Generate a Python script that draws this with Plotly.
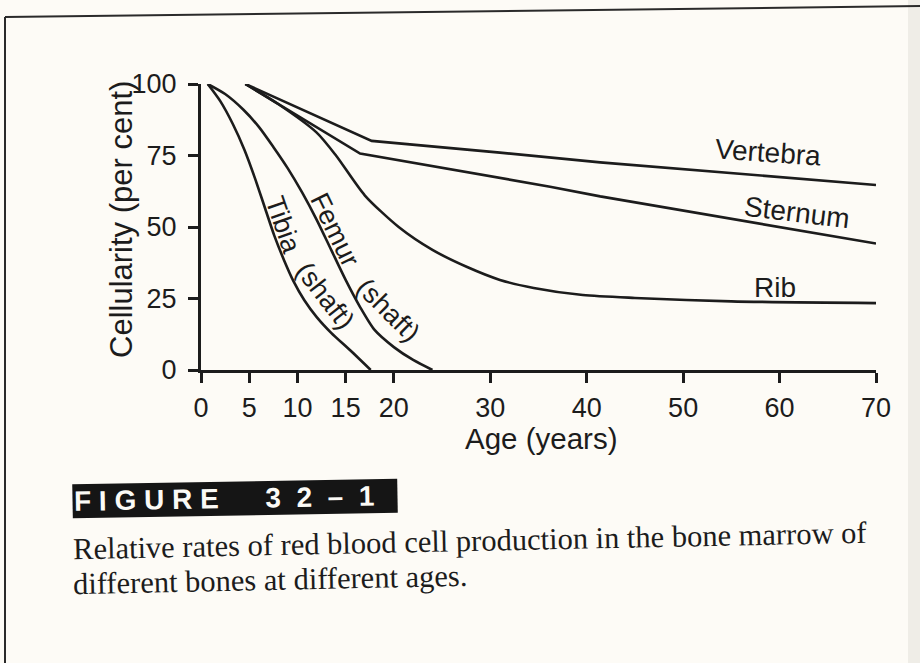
import plotly.graph_objects as go

# Age (years) and cellularity (per cent) for each bone
tibia_age = [0.7, 2, 3.3, 4.5, 5.6, 6.6, 7.6, 8.6, 9.6, 10.7, 12, 13.5, 15.5, 17.6]
tibia_val = [100, 94, 86, 77, 67, 57, 47, 38.5, 31, 24.5, 18.5, 13, 6.8, 0]

femur_age = [0.7, 2.5, 4.4, 6, 7.5, 9, 10.5, 12, 13.5, 15, 16.5, 18, 20, 22, 24]
femur_val = [100, 96.5, 91, 85, 78, 70.5, 62, 52.5, 42, 31.5, 22, 14, 8, 3.5, 0]

rib_age = [4.6, 8, 12, 14, 17, 20.5, 24, 27.6, 31, 34.5, 39.6, 45, 55, 70]
rib_val = [100, 93, 83, 75, 61, 50, 42, 36, 31.5, 28.7, 26.2, 25.2, 24, 23.4]

sternum_age = [4.6, 16.5, 36.2, 41.4, 70]
sternum_val = [100, 75.7, 64.1, 60.7, 44.2]

vertebra_age = [4.6, 17.7, 31, 41.4, 70]
vertebra_val = [100, 80.1, 76, 72.6, 64.7]

x_ticks = [0, 5, 10, 15, 20, 30, 40, 50, 60, 70]
y_ticks = [0, 25, 50, 75, 100]

INK = "#1c1c1c"
SANS = "Liberation Sans, Arial, sans-serif"
SERIF = "Liberation Serif, Times New Roman, serif"

W, H = 920, 663
ML, MR, MT, MB = 201, 44, 84, 293
PW, PH = W - ML - MR, H - MT - MB


def px(x):
    """Page pixel column -> paper x (relative to the plotting area)."""
    return (x - ML) / PW


def py(y):
    """Page pixel row -> paper y (relative to the plotting area)."""
    return (H - MB - y) / PH


fig = go.Figure()


def add_curve(xs, ys, name, shape="spline"):
    fig.add_trace(go.Scatter(
        x=xs, y=ys, mode="lines", name=name,
        line=dict(color=INK, width=2.6, shape=shape, smoothing=0.7),
        hoverinfo="x+y+name",
    ))


add_curve(tibia_age, tibia_val, "Tibia (shaft)")
add_curve(femur_age, femur_val, "Femur (shaft)")
add_curve(rib_age, rib_val, "Rib")
add_curve(sternum_age, sternum_val, "Sternum", shape="linear")
add_curve(vertebra_age, vertebra_val, "Vertebra", shape="linear")

# Curve labels
curve_labels = [
    ("Vertebra", 58.8, 76.2, 4, 28),
    ("Sternum", 61.8, 55.0, 7, 28),
    ("Rib", 59.5, 29.0, 0, 28),
    ("Tibia", 8.6, 50.5, 71, 27),
    ("(shaft)", 12.9, 26.0, 52, 27),
    ("Femur", 13.9, 49.0, 64, 27),
    ("(shaft)", 19.4, 21.0, 45, 27),
]
for text, ax_x, ax_y, ang, size in curve_labels:
    fig.add_annotation(x=ax_x, y=ax_y, xref="x", yref="y", text=text,
                       showarrow=False, textangle=ang,
                       xanchor="center", yanchor="middle",
                       font=dict(family=SANS, size=size, color=INK))

# Axis titles
fig.add_annotation(x=px(121), y=py(220), xref="paper", yref="paper",
                   text="Cellularity (per cent)", showarrow=False, textangle=-90,
                   xanchor="center", yanchor="middle",
                   font=dict(family=SANS, size=31, color=INK))
fig.add_annotation(x=px(541), y=py(438), xref="paper", yref="paper",
                   text="Age (years)", showarrow=False,
                   xanchor="center", yanchor="middle",
                   font=dict(family=SANS, size=29.5, color=INK))

# Figure number box and caption
NB = "&nbsp;"
fig_number = "F I G U R E" + NB * 6 + (NB * 2).join(["3", "2", "–", "1"])
fig.add_annotation(x=px(72), y=py(498), xref="paper", yref="paper",
                   text=fig_number,
                   showarrow=False, xanchor="left", yanchor="middle",
                   font=dict(family=SANS, size=28, color="#fbfaf6", weight="bold"),
                   bgcolor="#151515", width=322, height=31, align="left",
                   borderpad=1, textangle=-1)
fig.add_annotation(x=px(71), y=py(541), xref="paper", yref="paper",
                   text="Relative rates of red blood cell production in the bone marrow of",
                   showarrow=False, xanchor="left", yanchor="middle", textangle=-1.2,
                   font=dict(family=SERIF, size=30.5, color=INK))
fig.add_annotation(x=px(71), y=py(580), xref="paper", yref="paper",
                   text="different bones at different ages.",
                   showarrow=False, xanchor="left", yanchor="middle", textangle=-1.2,
                   font=dict(family=SERIF, size=30.5, color=INK))

# Page frame lines and the darker right-hand edge
fig.add_shape(type="line", xref="paper", yref="paper",
              x0=px(5), y0=py(17), x1=px(920), y1=py(6),
              line=dict(color="#2a2a2a", width=2))
fig.add_shape(type="line", xref="paper", yref="paper",
              x0=px(5), y0=py(17), x1=px(5), y1=py(663),
              line=dict(color="#2a2a2a", width=2))
fig.add_shape(type="rect", xref="paper", yref="paper",
              x0=px(908), y0=py(663), x1=px(920), y1=py(0), line=dict(width=0),
              fillcolor="rgba(190,185,178,0.22)", layer="below")

fig.update_xaxes(
    range=[0, 70], tickvals=x_ticks, ticktext=[str(v) for v in x_ticks],
    showline=True, linecolor=INK, linewidth=3, showgrid=False, zeroline=False,
    ticks="outside", ticklen=10, tickwidth=2.5, tickcolor=INK,
    tickfont=dict(family=SANS, size=27, color=INK), ticklabelstandoff=2,
)
fig.update_yaxes(
    range=[0, 100], tickvals=y_ticks,
    showline=True, linecolor=INK, linewidth=3, showgrid=False, zeroline=False,
    ticks="outside", ticklen=10, tickwidth=2.5, tickcolor=INK,
    tickfont=dict(family=SANS, size=27, color=INK), ticklabelstandoff=6,
)

fig.update_layout(
    width=W, height=H,
    margin=dict(l=ML, r=MR, t=MT, b=MB),
    paper_bgcolor="#fdfbf6", plot_bgcolor="#fdfbf6",
    showlegend=False,
)

fig.write_html("out.html")
